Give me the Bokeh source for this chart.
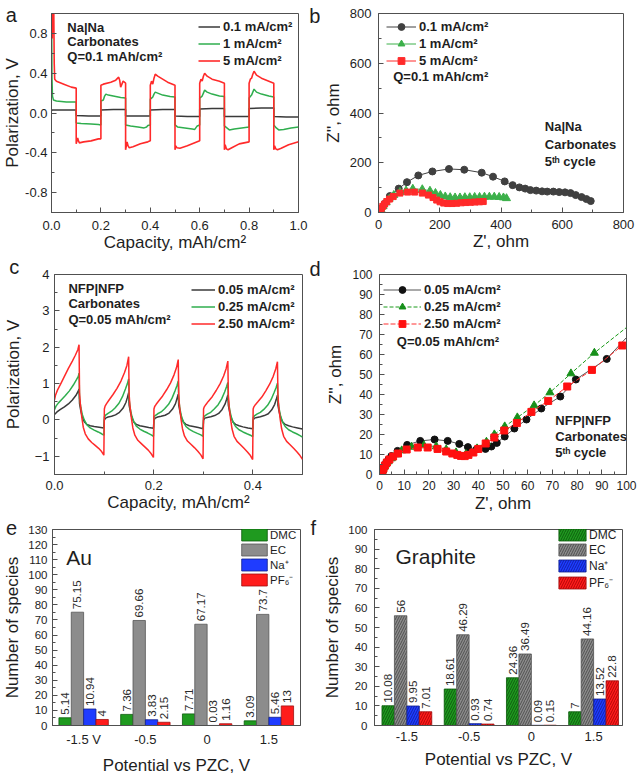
import math
from bokeh.plotting import figure
from bokeh.layouts import column, row
from bokeh.models import (FixedTicker, Legend, LegendItem, Label, Range1d,
                          NumeralTickFormatter, ColumnDataSource)
from bokeh.transform import dodge
from bokeh.core.properties import value
from bokeh.embed import file_html
from bokeh.resources import INLINE

# ======================= DATA =======================
# (a) Na|Na, carbonates, Q = 0.1 mAh/cm2 : (capacity mAh/cm2, polarization V)
a_labels = ["0.1 mA/cm²", "1 mA/cm²", "5 mA/cm²"]
a_black = [(0, 0.02), (0.002, 0.03), (0.05, 0.03), (0.1, 0.03), (0.1, -0.025), (0.15, -0.03), (0.2, -0.03),
           (0.2, 0.03), (0.25, 0.035), (0.3, 0.035), (0.3, -0.03), (0.35, -0.03), (0.4, -0.03),
           (0.4, 0.03), (0.45, 0.035), (0.5, 0.035), (0.5, -0.03), (0.55, -0.035), (0.6, -0.035),
           (0.6, 0.04), (0.65, 0.045), (0.7, 0.045), (0.7, -0.035), (0.75, -0.035), (0.8, -0.035),
           (0.8, 0.045), (0.85, 0.05), (0.9, 0.05), (0.9, -0.035), (0.95, -0.04), (1.0, -0.04)]
a_green = [(0.0, 1.1), (0.002, 0.35), (0.004, 0.17), (0.008, 0.13), (0.02, 0.12), (0.06, 0.11), (0.1, 0.11),
           (0.1, -0.1), (0.12, -0.105), (0.16, -0.11), (0.19, -0.115), (0.2, -0.12),
           (0.2, 0.12), (0.21, 0.13), (0.215, 0.17), (0.22, 0.19), (0.23, 0.18), (0.25, 0.17), (0.28, 0.155), (0.3, 0.15),
           (0.3, -0.12), (0.32, -0.13), (0.35, -0.14), (0.375, -0.15), (0.385, -0.14), (0.39, -0.125), (0.4, -0.12),
           (0.4, 0.14), (0.41, 0.16), (0.415, 0.19), (0.42, 0.21), (0.43, 0.2), (0.45, 0.18), (0.48, 0.165), (0.5, 0.16),
           (0.5, -0.12), (0.51, -0.14), (0.54, -0.15), (0.57, -0.16), (0.58, -0.165), (0.59, -0.13), (0.6, -0.12),
           (0.6, 0.15), (0.61, 0.17), (0.615, 0.2), (0.62, 0.23), (0.63, 0.21), (0.65, 0.19), (0.68, 0.17), (0.7, 0.165),
           (0.7, -0.13), (0.71, -0.15), (0.72, -0.17), (0.74, -0.16), (0.77, -0.15), (0.8, -0.14),
           (0.8, 0.15), (0.81, 0.18), (0.815, 0.21), (0.82, 0.24), (0.83, 0.21), (0.85, 0.19), (0.88, 0.17), (0.9, 0.16),
           (0.9, -0.12), (0.91, -0.15), (0.92, -0.17), (0.94, -0.165), (0.97, -0.15), (1.0, -0.14)]
a_red = [(0.002, 1.1), (0.003, 0.75), (0.005, 1.1), (0.009, 1.1), (0.011, 0.5), (0.013, 0.34), (0.02, 0.32),
         (0.05, 0.29), (0.08, 0.26), (0.1, 0.25),
         (0.1, -0.31), (0.103, -0.28), (0.106, -0.25), (0.109, -0.28), (0.113, -0.3), (0.13, -0.29), (0.16, -0.28),
         (0.19, -0.26), (0.2, -0.26),
         (0.2, 0.28), (0.21, 0.29), (0.24, 0.31), (0.26, 0.33), (0.268, 0.35), (0.272, 0.36), (0.276, 0.33),
         (0.28, 0.26), (0.285, 0.29), (0.29, 0.32), (0.3, 0.3),
         (0.3, -0.37), (0.303, -0.33), (0.306, -0.29), (0.31, -0.33), (0.315, -0.35), (0.33, -0.34), (0.36, -0.31),
         (0.39, -0.29), (0.4, -0.28),
         (0.4, 0.28), (0.405, 0.32), (0.41, 0.29), (0.415, 0.35), (0.42, 0.39), (0.43, 0.37), (0.45, 0.34),
         (0.47, 0.31), (0.49, 0.29), (0.5, 0.28),
         (0.5, -0.37), (0.503, -0.33), (0.508, -0.35), (0.52, -0.355), (0.55, -0.33), (0.58, -0.3), (0.6, -0.28),
         (0.6, 0.3), (0.605, 0.34), (0.61, 0.32), (0.615, 0.37), (0.62, 0.4), (0.63, 0.37), (0.65, 0.34),
         (0.68, 0.32), (0.7, 0.3),
         (0.7, -0.37), (0.703, -0.32), (0.708, -0.36), (0.715, -0.37), (0.73, -0.35), (0.76, -0.31), (0.8, -0.29),
         (0.8, 0.3), (0.805, 0.34), (0.81, 0.35), (0.815, 0.39), (0.82, 0.42), (0.83, 0.38), (0.85, 0.35),
         (0.88, 0.32), (0.9, 0.3),
         (0.9, -0.37), (0.903, -0.33), (0.908, -0.36), (0.915, -0.37), (0.93, -0.355), (0.96, -0.32), (1.0, -0.29)]
a_xticks = [0.0, 0.2, 0.4, 0.6, 0.8, 1.0]
a_yticks = [-0.8, -0.4, 0.0, 0.4, 0.8]

# (b) Nyquist plots, Na|Na, 5th cycle : (Z' ohm, Z'' ohm)
b_labels = ["0.1 mA/cm²", "1 mA/cm²", "5 mA/cm²"]
b_black_re = [2, 8, 20, 37, 66, 93, 130, 176, 230, 280, 337, 374, 412, 438, 460, 479, 496, 515, 534, 551,
              571, 590, 609, 627, 644, 663, 679, 693]
b_black_im = [3, 13, 35, 66, 96, 122, 149, 165, 175, 172, 160, 144, 125, 110, 101, 96, 90, 88, 85, 84,
              84, 82, 81, 78, 70, 62, 54, 46]
b_green_re = [3, 8, 15, 25, 35, 50, 70, 90, 112, 143, 168, 186, 202, 218, 234, 250, 266, 282, 298, 314,
              330, 346, 362, 378, 394, 408, 418]
b_green_im = [3, 12, 25, 40, 55, 70, 82, 88, 95, 93, 87, 78, 70, 64, 61, 60, 60, 61, 61, 62,
              62, 63, 63, 63, 62, 60, 57]
b_red_re = [2, 5, 9, 14, 20, 27, 36, 48, 70, 95, 118, 143, 163, 178, 190, 201, 213, 226, 240, 255,
            270, 285, 300, 315, 330, 342]
b_red_im = [2, 8, 16, 25, 34, 44, 54, 64, 78, 82, 82, 78, 70, 60, 50, 43, 38, 36, 36, 37,
            39, 40, 41, 42, 43, 44]
b_ticks = [0, 200, 400, 600, 800]

# (c) NFP|NFP, carbonates, Q = 0.05 mAh/cm2 : (capacity, polarization V)
c_labels = ["0.05 mA/cm²", "0.25 mA/cm²", "2.50 mA/cm²"]
c_black = [(0, 0.15), (0.005, 0.22), (0.012, 0.29), (0.02, 0.36), (0.028, 0.44), (0.036, 0.55), (0.043, 0.67),
           (0.047, 0.77), (0.0495, 0.85),
           (0.0505, 0.45), (0.053, 0.25), (0.056, 0.08), (0.06, -0.05), (0.065, -0.12), (0.072, -0.16),
           (0.08, -0.18), (0.09, -0.2), (0.0995, -0.22),
           (0.1005, 0.0), (0.103, 0.05), (0.108, 0.08), (0.115, 0.1), (0.123, 0.14), (0.131, 0.21), (0.138, 0.32),
           (0.144, 0.48), (0.147, 0.62), (0.1495, 0.75),
           (0.1505, 0.4), (0.153, 0.22), (0.156, 0.06), (0.16, -0.06), (0.165, -0.12), (0.172, -0.16),
           (0.18, -0.18), (0.19, -0.21), (0.1995, -0.23),
           (0.2005, 0.0), (0.203, 0.05), (0.208, 0.08), (0.215, 0.1), (0.223, 0.13), (0.231, 0.19), (0.238, 0.3),
           (0.244, 0.45), (0.247, 0.59), (0.2495, 0.71),
           (0.2505, 0.4), (0.253, 0.22), (0.256, 0.06), (0.26, -0.06), (0.265, -0.12), (0.272, -0.16),
           (0.28, -0.18), (0.29, -0.21), (0.2995, -0.24),
           (0.3005, 0.0), (0.303, 0.05), (0.308, 0.07), (0.315, 0.09), (0.323, 0.12), (0.331, 0.18), (0.338, 0.29),
           (0.344, 0.44), (0.347, 0.57), (0.3495, 0.69),
           (0.3505, 0.4), (0.353, 0.22), (0.356, 0.06), (0.36, -0.06), (0.365, -0.12), (0.372, -0.16),
           (0.38, -0.19), (0.39, -0.22), (0.3995, -0.24),
           (0.4005, 0.0), (0.403, 0.05), (0.408, 0.07), (0.415, 0.09), (0.423, 0.12), (0.431, 0.17), (0.438, 0.28),
           (0.444, 0.43), (0.447, 0.56), (0.4495, 0.68),
           (0.4505, 0.4), (0.453, 0.22), (0.456, 0.06), (0.46, -0.06), (0.465, -0.12), (0.472, -0.16),
           (0.48, -0.19), (0.49, -0.22), (0.5, -0.25)]
c_green = [(0, 0.28), (0.003, 0.38), (0.008, 0.47), (0.015, 0.57), (0.022, 0.67), (0.03, 0.8), (0.038, 0.96),
           (0.044, 1.1), (0.048, 1.2), (0.0495, 1.29),
           (0.0505, 0.6), (0.053, 0.35), (0.056, 0.15), (0.06, 0.0), (0.065, -0.13), (0.072, -0.22), (0.08, -0.28),
           (0.088, -0.33), (0.095, -0.38), (0.0995, -0.42),
           (0.1005, 0.08), (0.103, 0.13), (0.108, 0.18), (0.115, 0.24), (0.122, 0.33), (0.13, 0.46), (0.137, 0.64),
           (0.143, 0.85), (0.147, 1.0), (0.1495, 1.13),
           (0.1505, 0.55), (0.153, 0.3), (0.156, 0.1), (0.16, -0.05), (0.165, -0.17), (0.172, -0.25), (0.18, -0.31),
           (0.188, -0.36), (0.195, -0.41), (0.1995, -0.45),
           (0.2005, 0.08), (0.203, 0.12), (0.208, 0.17), (0.215, 0.22), (0.222, 0.31), (0.23, 0.43), (0.237, 0.6),
           (0.243, 0.8), (0.247, 0.95), (0.2495, 1.07),
           (0.2505, 0.55), (0.253, 0.3), (0.256, 0.1), (0.26, -0.06), (0.265, -0.18), (0.272, -0.26), (0.28, -0.32),
           (0.288, -0.37), (0.295, -0.41), (0.2995, -0.45),
           (0.3005, 0.07), (0.303, 0.11), (0.308, 0.16), (0.315, 0.21), (0.322, 0.3), (0.33, 0.42), (0.337, 0.58),
           (0.343, 0.77), (0.347, 0.92), (0.3495, 1.03),
           (0.3505, 0.55), (0.353, 0.3), (0.356, 0.1), (0.36, -0.06), (0.365, -0.18), (0.372, -0.27), (0.38, -0.33),
           (0.388, -0.38), (0.395, -0.42), (0.3995, -0.46),
           (0.4005, 0.07), (0.403, 0.11), (0.408, 0.16), (0.415, 0.21), (0.422, 0.29), (0.43, 0.41), (0.437, 0.57),
           (0.443, 0.76), (0.447, 0.9), (0.4495, 1.01),
           (0.4505, 0.55), (0.453, 0.3), (0.456, 0.1), (0.46, -0.06), (0.465, -0.18), (0.472, -0.27), (0.48, -0.33),
           (0.488, -0.38), (0.495, -0.43), (0.5, -0.47)]
c_red = [(0, 0.55), (0.002, 0.68), (0.006, 0.82), (0.012, 0.98), (0.02, 1.2), (0.028, 1.42), (0.036, 1.62),
         (0.042, 1.78), (0.047, 1.93), (0.0495, 2.07),
         (0.0505, 0.75), (0.052, 0.45), (0.055, 0.08), (0.058, -0.2), (0.062, -0.38), (0.068, -0.52), (0.075, -0.62),
         (0.082, -0.7), (0.089, -0.78), (0.095, -0.87), (0.0995, -0.97),
         (0.1005, 0.3), (0.102, 0.38), (0.105, 0.45), (0.11, 0.55), (0.118, 0.7), (0.126, 0.87), (0.134, 1.07),
         (0.141, 1.3), (0.146, 1.5), (0.1495, 1.74),
         (0.1505, 0.7), (0.152, 0.4), (0.155, 0.05), (0.158, -0.22), (0.162, -0.42), (0.168, -0.56), (0.175, -0.65),
         (0.182, -0.74), (0.189, -0.83), (0.195, -0.93), (0.1995, -1.03),
         (0.2005, 0.3), (0.202, 0.37), (0.205, 0.43), (0.21, 0.52), (0.218, 0.66), (0.226, 0.83), (0.234, 1.02),
         (0.241, 1.24), (0.246, 1.44), (0.2495, 1.66),
         (0.2505, 0.7), (0.252, 0.38), (0.255, 0.03), (0.258, -0.24), (0.262, -0.44), (0.268, -0.58), (0.275, -0.67),
         (0.282, -0.76), (0.289, -0.86), (0.295, -0.96), (0.2995, -1.07),
         (0.3005, 0.3), (0.302, 0.36), (0.305, 0.42), (0.31, 0.51), (0.318, 0.64), (0.326, 0.81), (0.334, 1.0),
         (0.341, 1.21), (0.346, 1.41), (0.3495, 1.62),
         (0.3505, 0.7), (0.352, 0.38), (0.355, 0.02), (0.358, -0.25), (0.362, -0.45), (0.368, -0.59), (0.375, -0.68),
         (0.382, -0.78), (0.389, -0.88), (0.395, -0.98), (0.3995, -1.09),
         (0.4005, 0.3), (0.402, 0.36), (0.405, 0.42), (0.41, 0.5), (0.418, 0.63), (0.426, 0.8), (0.434, 0.99),
         (0.441, 1.2), (0.446, 1.4), (0.4495, 1.6),
         (0.4505, 0.7), (0.452, 0.38), (0.455, 0.02), (0.458, -0.25), (0.462, -0.45), (0.468, -0.59), (0.475, -0.68),
         (0.482, -0.78), (0.489, -0.88), (0.495, -0.98), (0.5, -1.08)]
c_xticks = [0.0, 0.2, 0.4]
c_yticks = [-1, 0, 1, 2, 3, 4]

# (d) Nyquist plots, NFP|NFP, 5th cycle : (Z' ohm, Z'' ohm); *_end = end of fitted line
d_labels = ["0.05 mA/cm²", "0.25 mA/cm²", "2.50 mA/cm²"]
d_black_re = [1.0, 1.2, 1.5, 2.0, 2.7, 3.6, 4.8, 7.3, 11.2, 16.5, 22.3, 27.6, 32.3, 35.8, 39.3, 42.9, 45.3,
              47.5, 50.7, 54.6, 59.5, 65.5, 73.2, 79.5, 92.0]
d_black_im = [0.3, 1.5, 3.0, 4.5, 6.0, 7.5, 9.2, 11.8, 14.8, 16.8, 17.5, 16.8, 15.3, 13.7, 12.6, 12.8, 14.0,
              15.8, 19.0, 23.0, 27.5, 33.0, 39.0, 47.5, 57.8]
d_black_end = (100, 68.5)
d_green_re = [1.0, 1.3, 1.8, 2.5, 3.5, 4.8, 6.5, 9.0, 13.0, 18.0, 23.0, 27.0, 31.0, 35.0, 39.5, 43.3, 46.5,
              50.7, 55.8, 62.6, 69.0, 77.5, 87.0]
d_green_im = [0.5, 2.0, 3.5, 5.0, 6.5, 8.0, 10.0, 12.0, 13.8, 14.5, 14.0, 12.5, 11.0, 10.2, 13.0, 16.3, 20.0,
              24.0, 28.5, 34.5, 41.0, 50.5, 60.8]
d_green_end = (100, 73.5)
d_red_re = [1.0, 1.2, 1.6, 2.2, 3.0, 4.0, 5.5, 7.5, 11.0, 15.5, 19.5, 23.5, 27.0, 29.5, 31.5, 33.0, 34.5,
            36.0, 38.0, 40.0, 43.0, 46.5, 50.5, 55.6, 61.5, 68.3, 76.0, 86.0, 98.3]
d_red_im = [0.3, 1.5, 3.0, 4.5, 6.0, 7.5, 9.0, 10.5, 12.5, 13.5, 13.5, 12.8, 11.5, 10.5, 9.8, 9.3, 9.2,
            9.8, 11.0, 12.8, 15.5, 18.5, 22.0, 25.7, 31.3, 36.8, 44.0, 52.3, 64.5]
d_red_end = (100, 65.5)
d_ticks = [0, 10, 20, 30, 40, 50, 60, 70, 80, 90, 100]

# (e), (f) number of species near the electrode vs potential
species = ["DMC", "EC", "Na⁺", "PF₆⁻"]
e_ticklabels = ["-1.5 V", "-0.5", "0", "1.5"]
f_ticklabels = ["-1.5", "-0.5", "0", "1.5"]
e_DMC = [5.14, 7.36, 7.71, 3.09]
e_EC = [75.15, 69.66, 67.17, 73.7]
e_Na = [10.94, 3.83, 0.03, 5.46]
e_PF6 = [4, 2.15, 1.16, 13]
f_DMC = [10.08, 18.61, 24.36, 7]
f_EC = [56, 46.29, 36.49, 44.16]
f_Na = [9.95, 0.93, 0.09, 13.52]
f_PF6 = [7.01, 0.74, 0.15, 22.8]
e_yticks = list(range(0, 131, 10))
f_yticks = list(range(0, 101, 10))

# ======================= STYLE =======================
FONT = "Liberation Sans"
INK = "#1e1e1e"
FRAME = "#505050"
C_BLACK = "#3a3a3a"
C_GREEN = "#2fae4e"
C_RED = "#ff2a2a"


def make_fig(w, h, xr, yr, borders):
    l, r, t, b = borders
    p = figure(width=w, height=h, x_range=Range1d(*xr), y_range=Range1d(*yr),
               output_backend="svg", toolbar_location=None, tools="",
               min_border_left=l, min_border_right=r, min_border_top=t, min_border_bottom=b)
    p.xgrid.visible = False
    p.ygrid.visible = False
    p.outline_line_color = FRAME
    p.outline_line_width = 1
    p.outline_line_alpha = 1
    for ax in (p.xaxis[0], p.yaxis[0]):
        ax.axis_line_color = FRAME
        ax.major_tick_in = 5
        ax.major_tick_out = 0
        ax.minor_tick_in = 3
        ax.minor_tick_out = 0
        ax.major_tick_line_color = FRAME
        ax.minor_tick_line_color = FRAME
        ax.major_label_text_font = FONT
        ax.major_label_text_font_size = "13px"
        ax.major_label_text_color = INK
        ax.axis_label_text_font = FONT
        ax.axis_label_text_font_size = "17px"
        ax.axis_label_text_font_style = "normal"
        ax.axis_label_text_color = INK
    return p


def set_axes(p, xlabel, ylabel, xs, xas, ys, yas, yfont="13px", xfont="13px"):
    p.xaxis.axis_label = xlabel
    p.yaxis.axis_label = ylabel
    p.xaxis.major_label_standoff = xs
    p.xaxis.axis_label_standoff = xas
    p.yaxis.major_label_standoff = ys
    p.yaxis.axis_label_standoff = yas
    p.yaxis.major_label_text_font_size = yfont
    p.xaxis.major_label_text_font_size = xfont


def put(p, x, y, s, size="13px", style="bold", align="left", place="center"):
    p.add_layout(Label(x=x, y=y, text=s, text_font=FONT, text_font_size=size, text_font_style=style,
                       text_align=align, text_baseline="middle", text_color=INK), place)


def letter(p, x, y, s):
    # panel letters sit outside the frame: hosted in the right side panel (not clipped)
    put(p, x, y, s, size="20px", style="normal", place="right")


def add_legend(p, items, loc, gw, gh=17, size="13px", style="bold", standoff=3, padding=2):
    lg = Legend(items=items, location=loc, glyph_width=gw, glyph_height=gh, label_height=gh,
                label_width=10, spacing=0, padding=padding, margin=0, label_standoff=standoff,
                label_text_font=FONT, label_text_font_size=size, label_text_font_style=style,
                label_text_color=INK, border_line_color=None, background_fill_alpha=0)
    p.add_layout(lg)


def xy(pairs):
    return [q[0] for q in pairs], [q[1] for q in pairs]


# ======================= (a) =======================
pa = make_fig(320, 254, (0, 1.0), (-1.0, 1.0), (49, 22, 10, 42))
set_axes(pa, "Capacity, mAh/cm²", "Polarization, V", 8, 0, 4, 0)
pa.xaxis.ticker = FixedTicker(ticks=a_xticks, minor_ticks=[0.1, 0.3, 0.5, 0.7, 0.9])
pa.yaxis.ticker = FixedTicker(ticks=a_yticks, minor_ticks=[-1.0, -0.6, -0.2, 0.2, 0.6, 1.0])
pa.xaxis.formatter = NumeralTickFormatter(format="0.0")
pa.yaxis.formatter = NumeralTickFormatter(format="0.0")
ra = []
for pts, col, lw in ((a_black, C_BLACK, 1.5), (a_green, C_GREEN, 1.5), (a_red, C_RED, 1.6)):
    x, y = xy(pts)
    ra.append(pa.line(x, y, line_color=col, line_width=lw))
add_legend(pa, [LegendItem(label=l, renderers=[r]) for l, r in zip(a_labels, ra)], (147, 143), 22)
put(pa, 0.064, 0.861, "Na|Na")
put(pa, 0.064, 0.72, "Carbonates")
put(pa, 0.064, 0.571, "Q=0.1 mAh/cm²")
letter(pa, -0.185, 0.985, "a")
letter(pa, 1.044, 0.975, "b")

# ======================= (b) =======================
pb = make_fig(320, 254, (0, 800), (0, 800), (53, 17, 13, 41))
set_axes(pb, "Z', ohm", "Z'', ohm", 7, 0, 7, 4)
pb.xaxis.ticker = FixedTicker(ticks=b_ticks, minor_ticks=[100, 300, 500, 700])
pb.yaxis.ticker = FixedTicker(ticks=b_ticks, minor_ticks=[100, 300, 500, 700])
items_b = []
for xr_, yi_, col, mk, sz, lab in ((b_black_re, b_black_im, "#404040", "circle", 7, b_labels[0]),
                                   (b_green_re, b_green_im, "#3cb04a", "triangle", 8, b_labels[1]),
                                   (b_red_re, b_red_im, "#ff2a2a", "square", 6, b_labels[2])):
    l1 = pb.line(xr_, yi_, line_color=col, line_width=1)
    m1 = pb.scatter(xr_, yi_, marker=mk, size=sz, fill_color=col, line_color=col)
    items_b.append(LegendItem(label=lab, renderers=[l1, m1]))
add_legend(pb, items_b, (8, 143), 30)
put(pb, 48, 545, "Q=0.1 mAh/cm²")
put(pb, 543, 344, "Na|Na")
put(pb, 543, 275, "Carbonates")
put(pb, 543, 205, "5ᵗʰ cycle")

# ======================= (c) =======================
pc = make_fig(323, 261, (0, 0.5), (-1.5, 4.0), (49, 21, 20, 40))
set_axes(pc, "Capacity, mAh/cm²", "Polarization, V", 6, 0, 5, 9)
pc.xaxis.ticker = FixedTicker(ticks=c_xticks, minor_ticks=[0.1, 0.3, 0.5])
pc.yaxis.ticker = FixedTicker(ticks=c_yticks, minor_ticks=[-1.5, -0.5, 0.5, 1.5, 2.5, 3.5])
pc.xaxis.formatter = NumeralTickFormatter(format="0.0")
rc = []
for pts, col in ((c_black, C_BLACK), (c_green, C_GREEN), (c_red, C_RED)):
    x, y = xy(pts)
    rc.append(pc.line(x, y, line_color=col, line_width=1.5))
add_legend(pc, [LegendItem(label=l, renderers=[r]) for l, r in zip(c_labels, rc)], (137, 142), 24)
put(pc, 0.028, 3.609, "NFP|NFP")
put(pc, 0.028, 3.198, "Carbonates")
put(pc, 0.028, 2.76, "Q=0.05 mAh/cm²")
letter(pc, -0.091, 4.205, "c")
letter(pc, 0.514, 4.164, "d")

# ======================= (d) =======================
pd_ = make_fig(317, 261, (0, 100), (0, 100), (51, 14, 18, 40))
set_axes(pd_, "Z', ohm", "Z'', ohm", 6, 1, 7, 4, yfont="12px", xfont="12px")
pd_.xaxis.ticker = FixedTicker(ticks=d_ticks, minor_ticks=list(range(5, 100, 10)))
pd_.yaxis.ticker = FixedTicker(ticks=d_ticks, minor_ticks=list(range(5, 100, 10)))
items_d = []
for xr_, yi_, end, lc, mc, mk, sz, dash, lab in (
        (d_black_re, d_black_im, d_black_end, "#555555", "#111111", "circle", 7, "solid", d_labels[0]),
        (d_green_re, d_green_im, d_green_end, "#1a9a1a", "#17901a", "triangle", 8, "4 2", d_labels[1]),
        (d_red_re, d_red_im, d_red_end, "#ff3030", "#ff1010", "square", 7, "5 2", d_labels[2])):
    l1 = pd_.line(list(xr_) + [end[0]], list(yi_) + [end[1]], line_color=lc, line_width=1, line_dash=dash)
    m1 = pd_.scatter(xr_, yi_, marker=mk, size=sz, fill_color=mc, line_color=mc)
    items_d.append(LegendItem(label=lab, renderers=[l1, m1]))
add_legend(pd_, items_d, (4, 142), 38)
put(pd_, 7.0, 66.5, "Q=0.05 mAh/cm²")
put(pd_, 71.2, 27.1, "NFP|NFP")
put(pd_, 71.2, 19.2, "Carbonates")
put(pd_, 71.2, 10.9, "5ᵗʰ cycle")

# ======================= (e) & (f) =======================
FILL = {"DMC": "#1f9a1f", "EC": "#8c8c8c", "Na⁺": "#1f3cff", "PF₆⁻": "#ff1c1c"}
EDGE = {"DMC": "#0b5a0b", "EC": "#555555", "Na⁺": "#10208a", "PF₆⁻": "#a01010"}
HATCH = {"DMC": "#0a4a0a", "EC": "#3c3c3c", "Na⁺": "#0a1a90", "PF₆⁻": "#9a0000"}
OFFS = [-0.3, -0.1, 0.1, 0.3]


def bars(p, series, hatched, label_size):
    rends = []
    for name, vals, off in zip(species, series, OFFS):
        src = ColumnDataSource(dict(x=[1, 2, 3, 4], v=vals, lab=[f"{v:g}" for v in vals]))
        kw = dict(fill_color=FILL[name], line_color=EDGE[name], line_width=0.8)
        if hatched:
            kw.update(hatch_pattern="/", hatch_color=HATCH[name], hatch_scale=5, hatch_weight=1,
                      hatch_alpha=0.75)
        r = p.vbar(x=dodge("x", off), top="v", width=0.2, source=src, **kw)
        p.text(x=dodge("x", off), y="v", text="lab", source=src, angle=math.pi / 2, y_offset=-3,
               text_font=value(FONT), text_font_size=label_size, text_align="left",
               text_baseline="middle", text_color="#2a2a2a")
        rends.append(r)
    return rends


pe = make_fig(320, 262, (0.496, 4.512), (0, 130), (49, 20, 14, 47))
set_axes(pe, "Potential vs PZC, V", "Number of species", 6, 6, 5, 3, yfont="11.5px")
pe.xaxis.ticker = FixedTicker(ticks=[1, 2, 3, 4])
pe.xaxis.major_label_overrides = {i + 1: t for i, t in enumerate(e_ticklabels)}
pe.xaxis.major_tick_line_color = None
pe.xaxis.minor_tick_line_color = None
pe.yaxis.ticker = FixedTicker(ticks=e_yticks, minor_ticks=list(range(5, 130, 10)))
re_ = bars(pe, [e_DMC, e_EC, e_Na, e_PF6], False, "11.5px")
add_legend(pe, [LegendItem(label=s, renderers=[r]) for s, r in zip(species, re_)], (186, 138), 32,
           gh=15, size="11.5px", style="normal", standoff=0)
put(pe, 0.72, 111.2, "Au", size="21px", style="normal")
letter(pe, -0.256, 130.97, "e")
letter(pe, 4.672, 130.97, "f")

pf = make_fig(320, 262, (0.48, 4.464), (0, 100), (53, 18, 14, 47))
set_axes(pf, "Potential vs PZC, V", "Number of species", 6, 6, 7, 3, yfont="11.5px")
pf.xaxis.ticker = FixedTicker(ticks=[1, 2, 3, 4])
pf.xaxis.major_label_overrides = {i + 1: t for i, t in enumerate(f_ticklabels)}
pf.xaxis.major_tick_line_color = None
pf.xaxis.minor_tick_line_color = None
pf.yaxis.ticker = FixedTicker(ticks=f_yticks, minor_ticks=list(range(5, 100, 10)))
rf_ = bars(pf, [f_DMC, f_EC, f_Na, f_PF6], True, "11.5px")
add_legend(pf, [LegendItem(label=s, renderers=[r]) for s, r in zip(species, rf_)], (181, 134), 34,
           gh=15, size="12px", style="normal", standoff=0)
put(pf, 0.816, 86.2, "Graphite", size="21px", style="normal")

layout = column(row(pa, pb), row(pc, pd_), row(pe, pf))
open("out.html", "w").write(file_html(layout, INLINE))
